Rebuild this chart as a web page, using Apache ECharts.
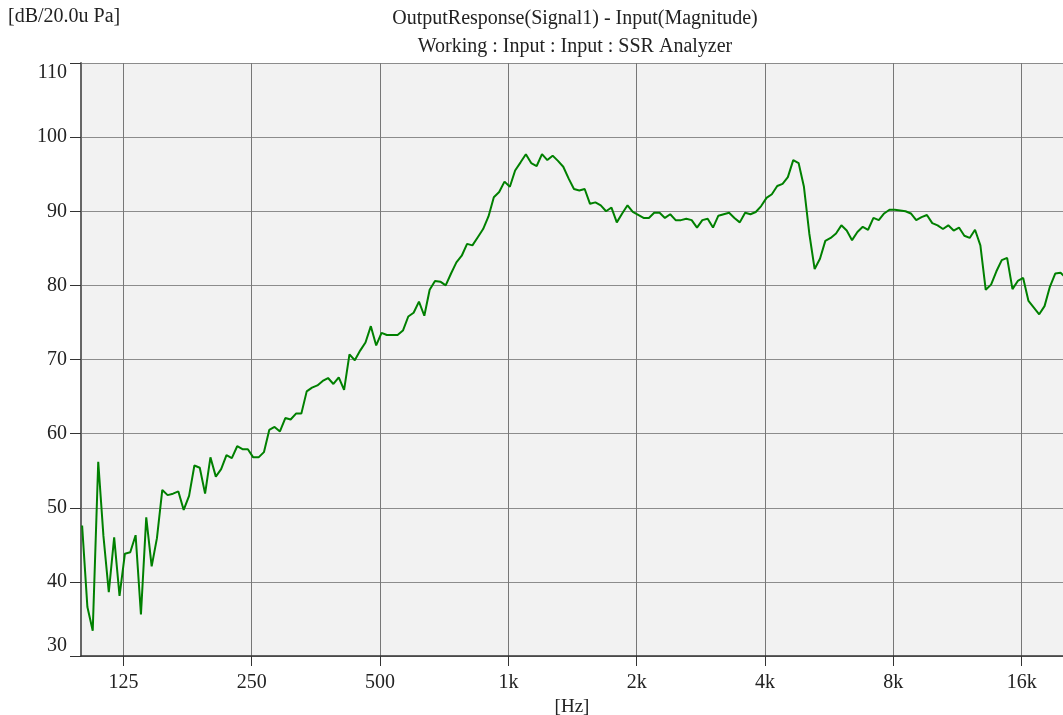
<!DOCTYPE html>
<html>
<head>
<meta charset="utf-8">
<title>Output Response</title>
<script src="https://cdn.jsdelivr.net/npm/echarts@6/dist/echarts.min.js"></script>
<style>
  html, body { margin: 0; padding: 0; background: #fff; }
  #chart { width: 1063px; height: 715px; }
</style>
</head>
<body>
<div id="chart"></div>
<script>
// 1/24 octave frequency points [Hz]
const freqs = [
  100, 102.9, 105.9, 109.1, 112.2, 115.5, 118.9, 122.4, 126.0, 129.7, 133.5, 137.4,
  141.4, 145.6, 149.8, 154.2, 158.7, 163.4, 168.2, 173.1, 178.2, 183.4, 188.8, 194.3,
  200, 205.9, 211.9, 218.1, 224.5, 231.1, 237.8, 244.8, 252.0, 259.4, 267.0, 274.8,
  282.8, 291.1, 299.7, 308.4, 317.5, 326.8, 336.4, 346.2, 356.4, 366.8, 377.5, 388.6,
  400, 411.7, 423.8, 436.2, 449.0, 462.1, 475.7, 489.6, 504.0, 518.7, 533.9, 549.6,
  565.7, 582.3, 599.3, 616.9, 635.0, 653.6, 672.7, 692.4, 712.7, 733.6, 755.1, 777.2,
  800, 823.4, 847.6, 872.4, 898.0, 924.3, 951.4, 979.2, 1008, 1037, 1068, 1099,
  1131, 1165, 1199, 1234, 1270, 1307, 1345, 1385, 1425, 1467, 1510, 1554,
  1600, 1647, 1695, 1745, 1796, 1849, 1903, 1958, 2016, 2075, 2136, 2198,
  2263, 2329, 2397, 2468, 2540, 2614, 2691, 2770, 2851, 2934, 3020, 3109,
  3200, 3294, 3390, 3490, 3592, 3697, 3805, 3917, 4032, 4150, 4272, 4397,
  4525, 4658, 4795, 4935, 5080, 5229, 5382, 5539, 5702, 5869, 6041, 6218,
  6400, 6588, 6781, 6979, 7184, 7394, 7611, 7834, 8063, 8300, 8543, 8793,
  9051, 9316, 9589, 9870, 10159, 10457, 10763, 11079, 11403, 11738, 12082, 12436,
  12800, 13175, 13561, 13958, 14367, 14789, 15222, 15668, 16127, 16599, 17086, 17587,
  18102, 18632, 19178, 19740, 20318
];

// magnitude [dB re 20 uPa]
const levels = [
  47.6, 36.6, 33.4, 56.2, 46.2, 38.6, 46.0, 38.1, 43.8, 44.0, 46.3, 35.6,
  48.7, 42.1, 45.9, 52.4, 51.7, 51.9, 52.2, 49.7, 51.6, 55.7, 55.4, 51.9,
  56.8, 54.2, 55.2, 57.1, 56.7, 58.3, 57.9, 57.9, 56.8, 56.8, 57.5, 60.5,
  60.9, 60.3, 62.1, 61.9, 62.7, 62.7, 65.7, 66.2, 66.5, 67.1, 67.5, 66.7,
  67.6, 65.9, 70.7, 69.9, 71.2, 72.3, 74.5, 71.9, 73.6, 73.3, 73.3, 73.3,
  73.9, 75.8, 76.3, 77.8, 75.9, 79.4, 80.6, 80.5, 80.0, 81.6, 83.1, 84.0,
  85.6, 85.4, 86.5, 87.6, 89.3, 91.9, 92.6, 94.0, 93.3, 95.5, 96.6, 97.7,
  96.5, 96.1, 97.7, 96.9, 97.5, 96.8, 96.0, 94.4, 93.0, 92.8, 93.0, 91.0,
  91.2, 90.8, 90.0, 90.5, 88.5, 89.7, 90.8, 89.9, 89.5, 89.1, 89.1, 89.8,
  89.8, 89.1, 89.6, 88.8, 88.8, 89.0, 88.8, 87.8, 88.8, 89.0, 87.8, 89.4,
  89.6, 89.8, 89.1, 88.5, 89.8, 89.6, 89.9, 90.7, 91.8, 92.3, 93.4, 93.7,
  94.6, 96.9, 96.5, 93.3, 87.0, 82.2, 83.6, 86.0, 86.4, 87.0, 88.1, 87.4,
  86.1, 87.2, 87.9, 87.5, 89.1, 88.8, 89.7, 90.2, 90.2, 90.1, 90.0, 89.7,
  88.8, 89.2, 89.5, 88.4, 88.1, 87.6, 88.1, 87.4, 87.8, 86.7, 86.4, 87.5,
  85.4, 79.4, 80.1, 81.9, 83.4, 83.7, 79.5, 80.6, 81.0, 77.9, 77.0, 76.1,
  77.2, 79.8, 81.6, 81.7, 81.0
];

const xTickValues = [125, 250, 500, 1000, 2000, 4000, 8000, 16000];
const xTickLabels = ['125', '250', '500', '1k', '2k', '4k', '8k', '16k'];

const titleLines = ['OutputResponse(Signal1) - Input(Magnitude)', 'Working : Input : Input : SSR Analyzer'];
const yUnit = '[dB/20.0u Pa]';
const xUnit = '[Hz]';

const FONT = '"Liberation Serif", "DejaVu Serif", serif';

const chart = echarts.init(document.getElementById('chart'));

const option = {
  animation: false,
  backgroundColor: '#ffffff',
  textStyle: { fontFamily: FONT },
  graphic: [
    {
      type: 'text', left: 8, top: 7,
      style: { text: yUnit, font: '20px ' + FONT, fill: '#222' }
    },
    {
      type: 'text', x: 575, y: 19,
      style: { text: titleLines[0], font: '20px ' + FONT, fill: '#222', textAlign: 'center', textVerticalAlign: 'middle' }
    },
    {
      type: 'text', x: 575, y: 47,
      style: { text: titleLines[1], font: '20px ' + FONT, fill: '#222', textAlign: 'center', textVerticalAlign: 'middle' }
    }
  ],
  grid: {
    left: 81,
    right: 0,
    top: 63,
    bottom: 59,
    outerBoundsMode: 'none',
    containLabel: false,
    show: true,
    backgroundColor: '#f2f2f2',
    borderWidth: 0
  },
  xAxis: {
    type: 'log',
    logBase: 2,
    min: 99.4,
    max: 20000,
    name: xUnit,
    nameLocation: 'middle',
    nameGap: 40,
    nameTextStyle: { fontSize: 19, color: '#222', fontFamily: FONT },
    axisLine: { show: true, lineStyle: { color: '#333', width: 1.5 } },
    axisTick: {
      show: true,
      length: 10,
      customValues: xTickValues,
      lineStyle: { color: '#333', width: 1 }
    },
    axisLabel: {
      customValues: xTickValues,
      margin: 17,
      fontSize: 20,
      color: '#222',
      fontFamily: FONT,
      formatter: v => {
        const k = xTickValues.indexOf(Math.round(v));
        return k >= 0 ? xTickLabels[k] : '';
      }
    },
    splitLine: { show: true, lineStyle: { color: '#777', width: 1 } },
    minorTick: { show: false },
    minorSplitLine: { show: false }
  },
  yAxis: {
    type: 'value',
    min: 30,
    max: 110,
    interval: 10,
    axisLine: { show: true, lineStyle: { color: '#666', width: 2 } },
    axisTick: { show: true, length: 11, lineStyle: { color: '#333', width: 1 } },
    axisLabel: {
      margin: 14,
      fontSize: 20,
      color: '#222',
      fontFamily: FONT,
      verticalAlignMinLabel: 'bottom',
      verticalAlignMaxLabel: 'top'
    },
    splitLine: { show: true, lineStyle: { color: '#8c8c8c', width: 1 } }
  },
  series: [
    {
      type: 'line',
      data: freqs.map((f, i) => [f, levels[i]]),
      showSymbol: false,
      clip: true,
      lineStyle: { color: '#008000', width: 2 },
      itemStyle: { color: '#008000' }
    }
  ]
};

chart.setOption(option);
</script>
</body>
</html>
